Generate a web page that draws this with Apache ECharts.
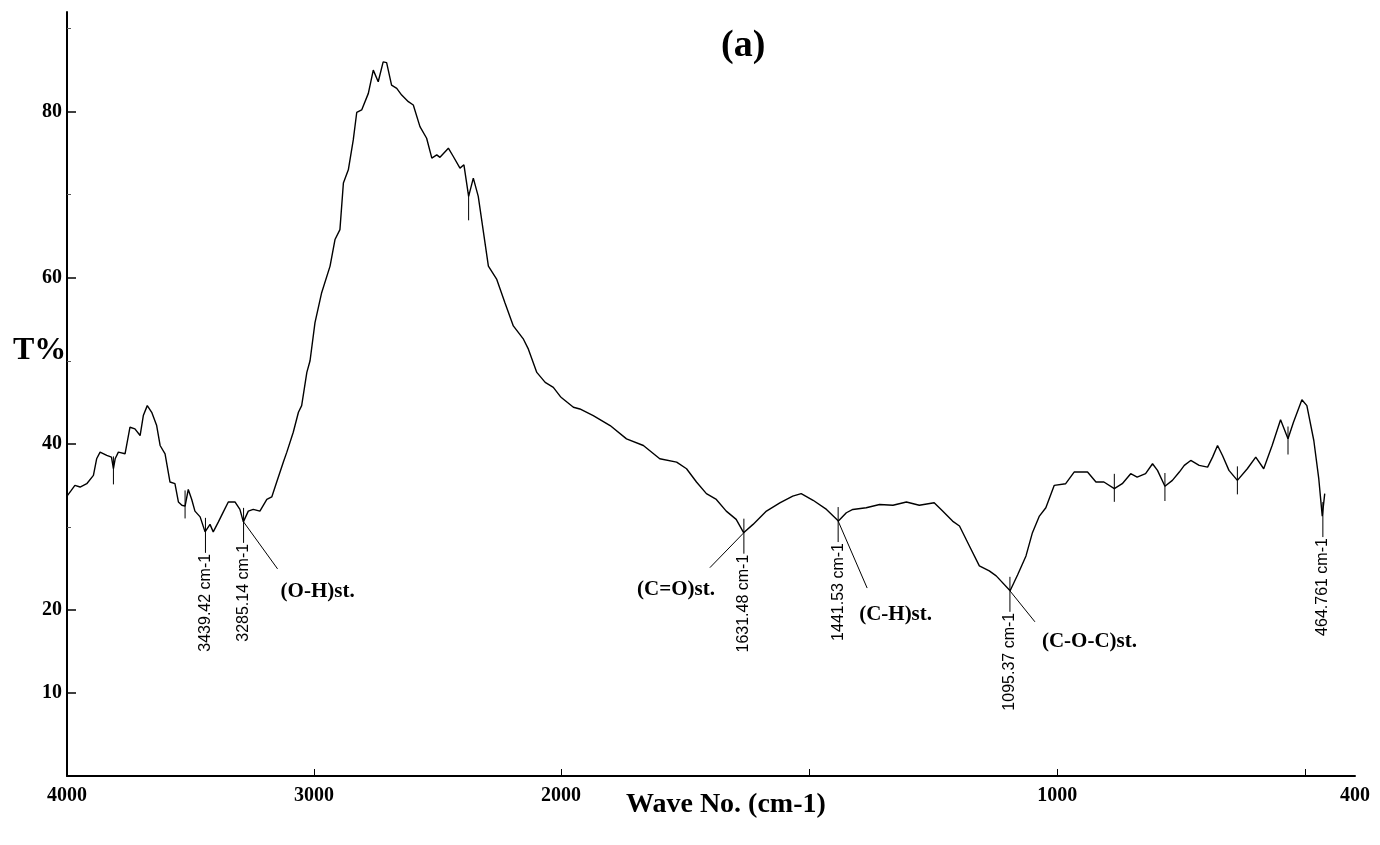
<!DOCTYPE html>
<html>
<head>
<meta charset="utf-8">
<title>FTIR spectrum (a)</title>
<script src="https://cdn.jsdelivr.net/npm/echarts@6/dist/echarts.min.js"></script>
<style>
  html, body { margin: 0; padding: 0; background: #fff; }
  #chart { width: 1380px; height: 845px; }
</style>
</head>
<body>
<div id="chart"></div>
<script>
// spectrum, 4000-2000 cm-1 (compressed part of the axis)
var wnHigh = [4000, 3985, 3968, 3947, 3920, 3893, 3880, 3866, 3839, 3820, 3812, 3805, 3792, 3765, 3745, 3725,
  3704, 3691, 3675, 3657, 3637, 3623, 3603, 3583, 3563, 3549, 3535, 3522, 3509, 3495, 3482, 3461, 3441,
  3421, 3408, 3387, 3367, 3347, 3320, 3300, 3286, 3266, 3246, 3219, 3191, 3171, 3151, 3124, 3110, 3084,
  3063, 3050, 3029, 3016, 2996, 2969, 2935, 2915, 2895, 2881, 2861, 2841, 2827, 2807, 2780, 2760, 2740,
  2720, 2706, 2686, 2665, 2645, 2618, 2598, 2571, 2544, 2523, 2503, 2490, 2456, 2436, 2409, 2393, 2374,
  2355, 2335, 2294, 2260, 2227, 2193, 2152, 2132, 2098, 2064, 2031, 2000];
var tHigh = [33.7, 34.3, 35.0, 34.8, 35.2, 36.2, 38.2, 39.0, 38.6, 38.4, 37.0, 38.2, 39.0, 38.8, 42.0, 41.8,
  41.0, 43.4, 44.6, 43.8, 42.2, 39.8, 38.8, 35.4, 35.2, 33.0, 32.6, 32.5, 34.5, 33.3, 31.9, 31.2, 29.4,
  30.3, 29.4, 30.6, 31.8, 33.0, 33.0, 32.1, 30.6, 31.9, 32.1, 31.9, 33.3, 33.6, 35.4, 37.8, 39.0, 41.4,
  43.8, 44.6, 48.6, 50.0, 54.6, 58.2, 61.4, 64.6, 65.8, 71.4, 73.0, 76.6, 79.9, 80.2, 82.2, 85.0, 83.6,
  86.0, 85.9, 83.2, 82.8, 82.0, 81.2, 80.8, 78.2, 76.8, 74.4, 74.8, 74.5, 75.6, 74.6, 73.2, 73.6, 69.8,
  72.0, 69.8, 61.4, 59.8, 57.0, 54.2, 52.6, 51.4, 48.6, 47.4, 46.8, 45.6];

// spectrum, 2000-400 cm-1
var wnLow = [2000, 1975, 1962, 1935, 1901, 1868, 1834, 1801, 1767, 1747, 1727, 1707, 1687, 1667, 1647, 1632,
  1613, 1586, 1559, 1533, 1516, 1492, 1465, 1441, 1425, 1412, 1385, 1358, 1331, 1304, 1278, 1248, 1231,
  1211, 1197, 1177, 1157, 1137, 1123, 1095, 1080, 1063, 1050, 1036, 1023, 1006, 983, 966, 939, 922, 906,
  885, 869, 852, 839, 822, 808, 798, 783, 768, 754, 744, 731, 714, 697, 687, 677, 667, 654, 637, 617,
  600, 584, 567, 550, 535, 524, 507, 497, 483, 473, 466, 461];
var tLow = [45.6, 44.4, 44.2, 43.4, 42.2, 40.6, 39.8, 38.2, 37.8, 37.0, 35.4, 34.0, 33.3, 31.9, 30.9, 29.3,
  30.3, 31.9, 32.9, 33.7, 34.0, 33.2, 32.1, 30.7, 31.7, 32.1, 32.3, 32.7, 32.6, 33.0, 32.6, 32.9, 31.9,
  30.7, 30.1, 27.7, 25.3, 24.7, 24.1, 22.3, 24.2, 26.5, 29.3, 31.3, 32.3, 35.0, 35.2, 36.6, 36.6, 35.4, 35.4,
  34.6, 35.2, 36.4, 36.0, 36.4, 37.6, 36.8, 34.9, 35.6, 36.6, 37.4, 38.0, 37.4, 37.2, 38.4, 39.8, 38.6, 36.8, 35.6, 37.0,
  38.4, 37.0, 39.8, 42.9, 40.6, 42.6, 45.3, 44.6, 40.4, 35.8, 31.3, 34.0];

// peak markers
var peakWn = [3812, 3522, 3439.42, 3285.14, 2374, 1631.48, 1441.53, 1095.37, 885, 783, 637, 535, 464.761];
var peakT = [36.8, 32.7, 29.4, 30.6, 68.6, 29.3, 30.7, 22.3, 34.7, 34.8, 35.6, 40.4, 31.3];
var peakText = ['', '', '3439.42 cm-1', '3285.14 cm-1', '', '1631.48 cm-1', '1441.53 cm-1', '1095.37 cm-1',
  '', '', '', '', '464.761 cm-1'];
var bandText = ['', '', '', '(O-H)st.', '', '(C=O)st.', '(C-H)st.', '(C-O-C)st.', '', '', '', '', ''];

// axis ticks
var yLabels = [10, 20, 40, 60, 80];
var yMinorTicks = [30, 50, 70, 90];
var xLabelsLow = [1000, 400];
var xTicksLow = [1500, 1000, 500];

// leader line / label offsets in pixels from the peak
var leaders = {
  '(O-H)st.': { lx: 34, ly: 47, tx: 37, ty: 70, align: 'left' },
  '(C=O)st.': { lx: -34, ly: 35, tx: -29, ty: 57, align: 'right' },
  '(C-H)st.': { lx: 29, ly: 67, tx: 21, ty: 94, align: 'left' },
  '(C-O-C)st.': { lx: 25, ly: 31, tx: 32, ty: 51, align: 'left' }
};

var serif = '"Liberation Serif", "Times New Roman", serif';
var sans = '"Liberation Sans", Arial, sans-serif';

function zip(xs, ys) {
  return xs.map(function (x, i) { return [x, ys[i]]; });
}

function peakData(high) {
  var out = [];
  peakWn.forEach(function (w, i) {
    if ((w > 2000) === high) out.push([w, peakT[i], i]);
  });
  return out;
}

function renderPeak(params, api) {
  var p = api.coord([api.value(0), api.value(1)]);
  var i = api.value(2);
  var label = peakText[i];
  var band = bandText[i];
  var kids = [{
    type: 'line',
    shape: { x1: p[0], y1: p[1] - 14, x2: p[0], y2: p[1] + (label ? 21 : 14) },
    style: { stroke: '#000', lineWidth: 1 }
  }];
  if (label) {
    kids.push({
      type: 'text',
      x: p[0], y: p[1] + 22,
      rotation: Math.PI / 2,
      style: { text: label, font: '16px ' + sans, fill: '#000', align: 'right', verticalAlign: 'middle' }
    });
  }
  if (band) {
    var l = leaders[band];
    kids.push({
      type: 'line',
      shape: { x1: p[0], y1: p[1], x2: p[0] + l.lx, y2: p[1] + l.ly },
      style: { stroke: '#000', lineWidth: 1 }
    });
    kids.push({
      type: 'text',
      x: p[0] + l.tx, y: p[1] + l.ty,
      style: { text: band, font: 'bold 21px ' + serif, fill: '#000', align: l.align, verticalAlign: 'middle' }
    });
  }
  return { type: 'group', children: kids };
}

var myChart = echarts.init(document.getElementById('chart'));

var axisLabelStyle = {
  color: '#000', fontFamily: serif, fontWeight: 'bold', fontSize: 20,
  formatter: function (v) { return String(v); }
};

var option = {
  animation: false,
  backgroundColor: '#fff',
  title: [
    { text: '(a)', left: 716, top: 22, textStyle: { fontFamily: serif, fontWeight: 'bold', fontSize: 38, color: '#000' } },
    { text: 'T%', left: 8, top: 330, textStyle: { fontFamily: serif, fontWeight: 'bold', fontSize: 32, color: '#000' } },
    { text: 'Wave No. (cm-1)', left: 621, top: 786, textStyle: { fontFamily: serif, fontWeight: 'bold', fontSize: 28, color: '#000' } }
  ],
  grid: [
    { left: 67, top: 12, width: 494, bottom: 69 },
    { left: 561, top: 12, right: 25, bottom: 69 }
  ],
  xAxis: [
    {
      type: 'value', gridIndex: 0, min: 2000, max: 4000, interval: 1000, inverse: true,
      axisLine: { lineStyle: { color: '#000', width: 2 } },
      axisTick: { inside: true, length: 7, lineStyle: { color: '#000' } },
      axisLabel: Object.assign({ margin: 10 }, axisLabelStyle),
      splitLine: { show: false }
    },
    {
      type: 'value', gridIndex: 1, min: 400, max: 2000, inverse: true,
      axisLine: { lineStyle: { color: '#000', width: 2 } },
      axisTick: { inside: true, length: 7, customValues: xTicksLow, lineStyle: { color: '#000' } },
      axisLabel: Object.assign({ margin: 10, customValues: xLabelsLow }, axisLabelStyle),
      splitLine: { show: false }
    }
  ],
  yAxis: [
    {
      type: 'value', gridIndex: 0, min: 0, max: 92, position: 'left',
      axisLine: { show: true, lineStyle: { color: '#000', width: 2 } },
      axisTick: { show: true, inside: true, length: 9, customValues: yLabels, lineStyle: { color: '#000', width: 1.5 } },
      axisLabel: Object.assign({ margin: 5, customValues: yLabels }, axisLabelStyle),
      splitLine: { show: false }
    },
    {
      type: 'value', gridIndex: 1, min: 0, max: 92, show: false
    },
    {
      type: 'value', gridIndex: 0, min: 0, max: 92, position: 'left',
      axisLine: { show: false },
      axisTick: { show: true, inside: true, length: 4, customValues: yMinorTicks, lineStyle: { color: '#555' } },
      axisLabel: { show: false },
      splitLine: { show: false }
    }
  ],
  series: [
    {
      type: 'line', xAxisIndex: 0, yAxisIndex: 0, data: zip(wnHigh, tHigh),
      showSymbol: false, lineStyle: { color: '#000', width: 1.4 }
    },
    {
      type: 'line', xAxisIndex: 1, yAxisIndex: 1, data: zip(wnLow, tLow),
      showSymbol: false, lineStyle: { color: '#000', width: 1.4 }
    },
    {
      type: 'custom', xAxisIndex: 0, yAxisIndex: 0, data: peakData(true),
      encode: { x: 0, y: 1 }, clip: false, renderItem: renderPeak
    },
    {
      type: 'custom', xAxisIndex: 1, yAxisIndex: 1, data: peakData(false),
      encode: { x: 0, y: 1 }, clip: false, renderItem: renderPeak
    }
  ]
};

myChart.setOption(option);
</script>
</body>
</html>
